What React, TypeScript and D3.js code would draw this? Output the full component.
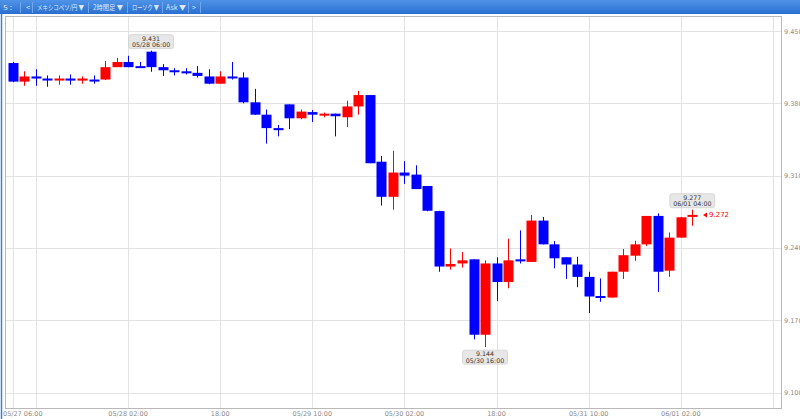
import React from "react";
import * as d3 from "d3";

// ---- data (2-hour candles, MXN/JPY) ----
const startTime = Date.UTC(2024, 4, 27, 6); // 05/27 06:00
const opens = [
  9.419, 9.401, 9.406, 9.404, 9.403, 9.404, 9.402, 9.403, 9.403, 9.415,
  9.42, 9.416, 9.43, 9.415, 9.412, 9.411, 9.4095, 9.406, 9.399, 9.406,
  9.405, 9.381, 9.369, 9.356, 9.379, 9.3655, 9.3715, 9.3685, 9.37, 9.3665,
  9.377, 9.388, 9.3235, 9.2895, 9.313, 9.311, 9.3, 9.2757, 9.222, 9.225,
  9.229, 9.156, 9.225, 9.207, 9.229, 9.2265, 9.2665, 9.2435, 9.231, 9.224,
  9.212, 9.1935, 9.192, 9.217, 9.2325, 9.2435, 9.271, 9.218, 9.25, 9.2712,
];
const highs = [
  9.42, 9.411, 9.413, 9.407, 9.407, 9.408, 9.406, 9.407, 9.421, 9.424,
  9.426, 9.42, 9.431, 9.418, 9.414, 9.414, 9.416, 9.413, 9.411, 9.42,
  9.41, 9.394, 9.374, 9.359, 9.379, 9.374, 9.3735, 9.371, 9.37, 9.3825,
  9.392, 9.388, 9.329, 9.334, 9.324, 9.32, 9.3, 9.276, 9.2395, 9.236,
  9.229, 9.228, 9.231, 9.249, 9.257, 9.272, 9.27, 9.2467, 9.231, 9.2315,
  9.217, 9.2105, 9.217, 9.239, 9.247, 9.271, 9.2735, 9.255, 9.27, 9.277,
];
const lows = [
  9.4005, 9.397, 9.397, 9.396, 9.398, 9.398, 9.399, 9.399, 9.4025, 9.415,
  9.415, 9.4145, 9.4105, 9.4065, 9.407, 9.408, 9.405, 9.3985, 9.399, 9.403,
  9.38, 9.3687, 9.341, 9.348, 9.355, 9.3645, 9.362, 9.3665, 9.348, 9.357,
  9.369, 9.322, 9.281, 9.277, 9.302, 9.297, 9.2755, 9.217, 9.219, 9.221,
  9.1515, 9.144, 9.1885, 9.201, 9.225, 9.2265, 9.2435, 9.2203, 9.21, 9.202,
  9.177, 9.188, 9.192, 9.21, 9.2275, 9.242, 9.1975, 9.212, 9.25, 9.2615,
];
const closes = [
  9.401, 9.406, 9.404, 9.403, 9.404, 9.402, 9.404, 9.402, 9.415, 9.42,
  9.415, 9.415, 9.415, 9.412, 9.4105, 9.409, 9.4065, 9.399, 9.406, 9.405,
  9.381, 9.369, 9.356, 9.354, 9.3655, 9.372, 9.369, 9.37, 9.3675, 9.377,
  9.388, 9.322, 9.2895, 9.313, 9.31, 9.297, 9.276, 9.222, 9.2245, 9.228,
  9.156, 9.225, 9.207, 9.228, 9.227, 9.2665, 9.2435, 9.23, 9.224, 9.212,
  9.193, 9.192, 9.217, 9.233, 9.2435, 9.271, 9.217, 9.25, 9.2697, 9.272,
];
const yTicks = [9.45, 9.38, 9.31, 9.24, 9.17, 9.1];
const toolbarItems = ["5 :", "<", "メキシコペソ/円 ▼", "2時間足 ▼", "ローソク ▼", "Ask ▼", ">"];
const markers = [
  { index: 12, value: 9.431, label: "05/28 06:00", pos: "above" },
  { index: 41, value: 9.144, label: "05/30 16:00", pos: "below" },
  { index: 59, value: 9.277, label: "06/01 04:00", pos: "above" },
];
const lastPrice = 9.272;

const HOUR = 3600 * 1000;
const W = 800;
const H = 419;
const plot = { left: 5, right: 781, top: 16, bottom: 408 };
const UP = "#ff0000";
const DOWN = "#0000ff";
const AXIS_FONT = "'DejaVu Sans', Verdana, sans-serif";

export default function App() {
  const times = opens.map((_, i) => new Date(startTime + i * 2 * HOUR));
  const x = d3
    .scaleUtc()
    .domain([new Date(startTime), new Date(startTime + 132 * HOUR)])
    .range([12.9, 772.9]);
  const y = d3.scaleLinear().domain([9.1, 9.45]).range([392.6, 31]);

  const gridTimes = [new Date(startTime)].concat(
    d3.range(9).map((k) => new Date(startTime + 4 * HOUR + k * 16 * HOUR))
  );
  const fmtFull = d3.utcFormat("%m/%d %H:%M");
  const fmtHour = d3.utcFormat("%H:%M");
  const fmtVal = d3.format(".3f");
  const bodyW = 10;

  // toolbar layout
  const tbX = [3, 26, 37, 93, 132, 166, 192];
  const tbLen = [9, 4, 47, 30, 27, 20, 4];
  const tbSep = [20, 32, 88, 127, 162, 188, 200];

  return (
    <svg
      width={W}
      height={H}
      style={{ position: "absolute", left: 0, top: 0, background: "#fff" }}
    >
      <defs>
        <linearGradient id="tb" x1="0" y1="0" x2="0" y2="1">
          <stop offset="0" stopColor="#4f93e8" />
          <stop offset="1" stopColor="#2a6fd0" />
        </linearGradient>
      </defs>
      <rect x={0} y={0} width={W} height={H} fill="#fff" />
      {/* toolbar */}
      <rect x={0} y={0} width={W} height={14} fill="url(#tb)" />
      {tbSep.map((sx, i) => (
        <line key={"s" + i} x1={sx + 0.5} x2={sx + 0.5} y1={2} y2={13} stroke="#6fa6ec" strokeWidth={1} />
      ))}
      {toolbarItems.map((t, i) => (
        <text
          key={"t" + i}
          x={tbX[i]}
          y={10}
          fontSize={7}
          fill="#dfe9fb"
          textLength={tbLen[i]}
          lengthAdjust="spacingAndGlyphs"
          fontFamily="'Noto Sans CJK JP', 'DejaVu Sans', sans-serif"
        >
          {t}
        </text>
      ))}
      {/* left frame line */}
      <line x1={1.5} x2={1.5} y1={14} y2={H} stroke="#3a7fd8" strokeWidth={1.5} />

      {/* grid */}
      {yTicks.map((v) => (
        <line
          key={"gy" + v}
          x1={plot.left}
          x2={plot.right}
          y1={Math.round(y(v)) + 0.5}
          y2={Math.round(y(v)) + 0.5}
          stroke="#e2e2e2"
        />
      ))}
      {gridTimes.map((t, i) => (
        <line
          key={"gx" + i}
          x1={Math.round(x(t)) + 0.5}
          x2={Math.round(x(t)) + 0.5}
          y1={plot.top}
          y2={plot.bottom}
          stroke="#e2e2e2"
        />
      ))}
      {/* plot border */}
      <rect
        x={plot.left + 0.5}
        y={plot.top + 0.5}
        width={plot.right - plot.left}
        height={plot.bottom - plot.top}
        fill="none"
        stroke="#b8b8b8"
      />

      {/* y labels */}
      {yTicks.map((v) => (
        <text
          key={"yl" + v}
          x={784}
          y={y(v) + 2.5}
          fontSize={6.5}
          fill="#8a8a8a"
          fontFamily={AXIS_FONT}
        >
          {fmtVal(v)}
        </text>
      ))}
      {/* x labels */}
      {gridTimes.slice(0, 9).map((t, i) => {
        if (i === 1) return null;
        const first = i === 0;
        const label = first || t.getUTCHours() !== 18 ? fmtFull(t) : fmtHour(t);
        return (
          <text
            key={"xl" + i}
            x={first ? 3 : x(t)}
            y={415.5}
            fontSize={6.5}
            textAnchor={first ? "start" : "middle"}
            fill="#8a8a8a"
            fontFamily={AXIS_FONT}
          >
            {label}
          </text>
        );
      })}

      {/* candles */}
      {times.map((t, i) => {
        const o = opens[i];
        const c = closes[i];
        const up = c >= o;
        const col = up ? UP : DOWN;
        const cx = Math.round(x(t));
        const yTop = y(Math.max(o, c));
        const yBot = y(Math.min(o, c));
        const h = Math.max(yBot - yTop, 2);
        return (
          <g key={"c" + i}>
            <line
              x1={cx + 0.5}
              x2={cx + 0.5}
              y1={y(highs[i])}
              y2={y(lows[i])}
              stroke={col}
              strokeWidth={1}
            />
            <rect x={cx - bodyW / 2 + 0.5} y={yTop} width={bodyW} height={h} fill={col} />
          </g>
        );
      })}

      {/* markers */}
      {markers.map((m, i) => {
        const cx = x(times[m.index]);
        const bw = 45;
        const bh = 14;
        const top = m.pos === "above" ? y(m.value) - 2 - bh : y(m.value) + 3;
        return (
          <g key={"m" + i}>
            <rect
              x={cx - bw / 2}
              y={top}
              width={bw}
              height={bh}
              rx={2.5}
              fill="#e6e6e6"
              stroke="#cfcfcf"
              strokeWidth={0.8}
              opacity={0.95}
            />
            <text x={cx} y={top + 6} fontSize={6.3} textAnchor="middle" fill="#333" fontFamily={AXIS_FONT}>
              {fmtVal(m.value)}
            </text>
            <text x={cx} y={top + 12.5} fontSize={6.3} textAnchor="middle" fill="#333" fontFamily={AXIS_FONT}>
              {m.label}
            </text>
          </g>
        );
      })}

      {/* last price indicator */}
      <path
        d={`M703,${y(lastPrice)} L707,${y(lastPrice) - 2.5} L707,${y(lastPrice) + 2.5} Z`}
        fill={UP}
      />
      <text x={709} y={y(lastPrice) + 2.5} fontSize={7} fill={UP} fontFamily={AXIS_FONT}>
        {fmtVal(lastPrice)}
      </text>
    </svg>
  );
}
